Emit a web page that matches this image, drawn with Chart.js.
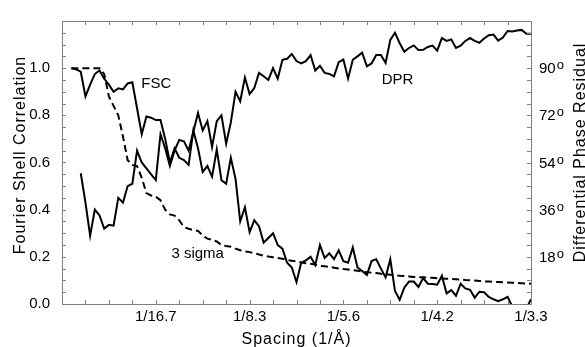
<!DOCTYPE html>
<html><head><meta charset="utf-8">
<script src="https://cdn.jsdelivr.net/npm/chart.js@4.4.0/dist/chart.umd.min.js"></script>
<style>html,body{margin:0;padding:0;background:#fff}#wrap{width:585px;height:347px}</style>
</head><body><div id="wrap"><canvas id="c" width="585" height="347"></canvas></div>
<script>
// Spatial frequency (1/Å)
const spacing = [0.006,0.009,0.012,0.015,0.018,0.021,0.024,0.027,0.030,0.033,0.036,0.039,0.042,0.045,0.048,0.051,0.054,0.057,0.060,
0.063,0.066,0.069,0.072,0.075,0.078,0.081,0.084,0.087,0.090,0.093,0.096,0.099,0.102,0.105,0.108,0.111,0.114,0.117,0.120,
0.123,0.126,0.129,0.132,0.135,0.138,0.141,0.144,0.147,0.150,0.153,0.156,0.159,0.162,0.165,0.168,0.171,0.174,0.177,0.180,
0.183,0.186,0.189,0.192,0.195,0.198,0.201,0.204,0.207,0.210,0.213,0.216,0.219,0.222,0.225,0.228,0.231,0.234,0.237,0.240,
0.243,0.246,0.249,0.252,0.255,0.258,0.261,0.264,0.267,0.270,0.273,0.276,0.279,0.282,0.285,0.288,0.291,0.294,0.297,0.300];
// Fourier Shell Correlation
const fsc = [1.00,0.995,0.985,0.88,0.93,0.975,0.99,0.955,0.93,0.90,0.915,0.91,0.935,0.94,0.83,0.72,0.795,0.79,0.78,
0.78,0.70,0.60,0.66,0.62,0.61,0.59,0.735,0.66,0.56,0.585,0.54,0.655,0.525,0.51,0.62,0.53,0.35,0.41,0.305,
0.355,0.33,0.26,0.28,0.30,0.25,0.235,0.175,0.155,0.093,0.175,0.185,0.20,0.165,0.25,0.195,0.215,0.19,0.228,0.182,
0.175,0.24,0.155,0.14,0.123,0.182,0.19,0.15,0.113,0.19,0.055,0.018,0.07,0.095,0.095,0.072,0.11,0.086,0.085,0.082,
0.12,0.045,0.059,0.035,0.086,0.066,0.06,0.027,0.052,0.05,0.03,0.02,0.012,0.02,0.03,-0.01,-0.03,-0.03,-0.02,0.02];
// Differential Phase Residual (degrees)
const dpr = [null,null,49.9,38.7,26.1,36.0,33.8,28.8,30.2,29.9,40.5,38.7,45.0,45.9,58.5,54.0,51.8,49.5,47.3,
64.8,59.4,52.7,58.5,62.6,62.1,58.5,65.7,72.9,66.2,69.8,59.9,69.8,72.0,61.2,69.3,81.0,77.4,86.4,80.1,
82.4,88.2,86.9,85.5,90.0,86.0,93.2,93.6,95.4,92.7,91.8,92.7,95.0,89.1,90.9,88.2,87.8,86.9,92.3,93.3,
86.0,93.2,94.5,95.9,90.7,91.8,95.0,95.0,92.0,100.8,103.5,99.5,96.3,97.7,98.7,96.9,97.0,98.1,98.6,96.7,
101.5,100.4,101.0,97.7,98.6,100.4,101.5,100.4,99.7,101.3,102.6,102.8,100.5,101.7,104.2,104.0,104.4,104.6,103.1,103.1];
// 3 sigma threshold
const sigma3 = [1.0,1.0,1.0,1.0,1.0,1.0,1.0,0.975,0.88,0.84,0.80,0.71,0.61,0.59,0.585,0.535,0.47,0.46,0.455,
0.44,0.40,0.38,0.375,0.355,0.326,0.319,0.313,0.31,0.29,0.277,0.272,0.265,0.25,0.246,0.243,0.235,0.228,0.223,0.22,
0.216,0.21,0.205,0.201,0.198,0.195,0.192,0.187,0.183,0.181,0.176,0.173,0.171,0.167,0.162,0.16,0.157,0.154,0.151,0.148,
0.146,0.144,0.141,0.138,0.135,0.133,0.131,0.128,0.126,0.124,0.122,0.12,0.119,0.117,0.115,0.114,0.113,0.112,0.111,0.109,
0.108,0.107,0.106,0.105,0.104,0.102,0.101,0.1,0.098,0.096,0.095,0.094,0.093,0.092,0.091,0.09,0.089,0.088,0.087,0.086];

const xTickValues = [0.06, 0.12, 0.18, 0.24, 0.30];
const xTickLabels = ['1/16.7', '1/8.3', '1/5.6', '1/4.2', '1/3.3'];
const yTickValues = [0, 0.2, 0.4, 0.6, 0.8, 1.0];
const yTickLabels = ['0.0', '0.2', '0.4', '0.6', '0.8', '1.0'];
const y2TickValues = [18, 36, 54, 72, 90];
const y2TickLabels = ['18', '36', '54', '72', '90'];

const FONT = "'Liberation Sans', Arial, Helvetica, sans-serif";
const pts = (ys) => spacing.map((x, i) => ({x, y: ys[i]}));

const decor = {
  id: 'decor',
  afterDraw(chart) {
    const {ctx, chartArea: a, scales} = chart;
    const x = scales.x, y = scales.y, y2 = scales.y2;
    ctx.save();
    // frame
    ctx.strokeStyle = '#808080';
    ctx.lineWidth = 1;
    ctx.strokeRect(Math.round(a.left) + 0.5, Math.round(a.top) + 0.5,
      Math.round(a.right) - Math.round(a.left), Math.round(a.bottom) - Math.round(a.top));
    // inward ticks
    ctx.beginPath();
    const L = 4;
    for (let k = 1; k < 20; k++) {
      const px = Math.round(x.getPixelForValue(k * 0.015)) + 0.5;
      ctx.moveTo(px, a.bottom); ctx.lineTo(px, a.bottom - L);
      ctx.moveTo(px, a.top); ctx.lineTo(px, a.top + L);
    }
    for (let k = 1; k < 24; k++) {
      const py = Math.round(y.getPixelForValue(k * 0.05)) + 0.5;
      ctx.moveTo(a.left, py); ctx.lineTo(a.left + L, py);
      const py2 = Math.round(y2.getPixelForValue(k * 4.5)) + 0.5;
      ctx.moveTo(a.right, py2); ctx.lineTo(a.right - L, py2);
    }
    ctx.stroke();
    // right tick labels with superscript o
    ctx.fillStyle = '#000';
    y2TickValues.forEach((v, i) => {
      const py = y2.getPixelForValue(v);
      ctx.font = '15px ' + FONT;
      ctx.textAlign = 'left';
      ctx.textBaseline = 'middle';
      const lx = a.right + 8;
      ctx.fillText(y2TickLabels[i], lx, py + 1);
      const w = ctx.measureText(y2TickLabels[i]).width;
      ctx.font = '13px ' + FONT;
      ctx.textBaseline = 'alphabetic';
      ctx.fillText('o', lx + w + 1, py + 1);
    });
    // annotations
    ctx.font = '15px ' + FONT;
    ctx.textAlign = 'left';
    ctx.textBaseline = 'alphabetic';
    ctx.fillText('FSC', x.getPixelForValue(0.0507), y.getPixelForValue(0.914));
    ctx.fillText('DPR', x.getPixelForValue(0.2045), y.getPixelForValue(0.934));
    ctx.fillText('3 sigma', x.getPixelForValue(0.070), y.getPixelForValue(0.195));
    // axis titles
    ctx.font = '16px ' + FONT;
    ctx.letterSpacing = '1px';
    ctx.textAlign = 'center';
    ctx.fillText('Spacing (1/Å)', (a.left + a.right) / 2, 344);
    ctx.save();
    ctx.translate(25, 155);
    ctx.rotate(-Math.PI / 2);
    ctx.fillText('Fourier Shell Correlation', 0, 0);
    ctx.restore();
    ctx.save();
    ctx.translate(584.5, 152.5);
    ctx.rotate(-Math.PI / 2);
    ctx.fillText('Differential Phase Residual', 0, 0);
    ctx.restore();
    ctx.letterSpacing = '0px';
    ctx.restore();
  }
};

new Chart(document.getElementById('c'), {
  type: 'line',
  data: {
    datasets: [
      {label: 'FSC', data: pts(fsc), yAxisID: 'y', borderColor: '#000', borderWidth: 2, pointRadius: 0, tension: 0},
      {label: 'DPR', data: pts(dpr), yAxisID: 'y2', borderColor: '#000', borderWidth: 2, pointRadius: 0, tension: 0, spanGaps: false},
      {label: '3 sigma', data: pts(sigma3), yAxisID: 'y', borderColor: '#000', borderWidth: 2, borderDash: [7, 4], pointRadius: 0, tension: 0}
    ]
  },
  options: {
    responsive: false,
    animation: false,
    devicePixelRatio: 1,
    layout: {padding: {top: 13, right: 54, left: 0, bottom: 0}},
    plugins: {legend: {display: false}, tooltip: {enabled: false}},
    scales: {
      x: {
        type: 'linear', min: 0, max: 0.3, position: 'bottom',
        grid: {display: false, drawTicks: false, tickLength: 0}, border: {display: false},
        afterBuildTicks: s => { s.ticks = xTickValues.map(v => ({value: v})); },
        afterFit: s => { s.height = 43; },
        ticks: {autoSkip: false, maxRotation: 0, minRotation: 0, padding: 4, color: '#000',
          font: {size: 15, family: FONT},
          callback: (v, i) => xTickLabels[i]}
      },
      y: {
        type: 'linear', min: 0, max: 1.2, position: 'left',
        grid: {display: false, drawTicks: false, tickLength: 0}, border: {display: false},
        afterBuildTicks: s => { s.ticks = yTickValues.map(v => ({value: v})); },
        afterFit: s => { s.width = 62; },
        ticks: {autoSkip: false, padding: 12, color: '#000',
          font: {size: 15, family: FONT},
          callback: (v, i) => yTickLabels[i]}
      },
      y2: {
        type: 'linear', min: 0, max: 108, position: 'right', display: false
      }
    }
  },
  plugins: [decor]
});
</script></body></html>
